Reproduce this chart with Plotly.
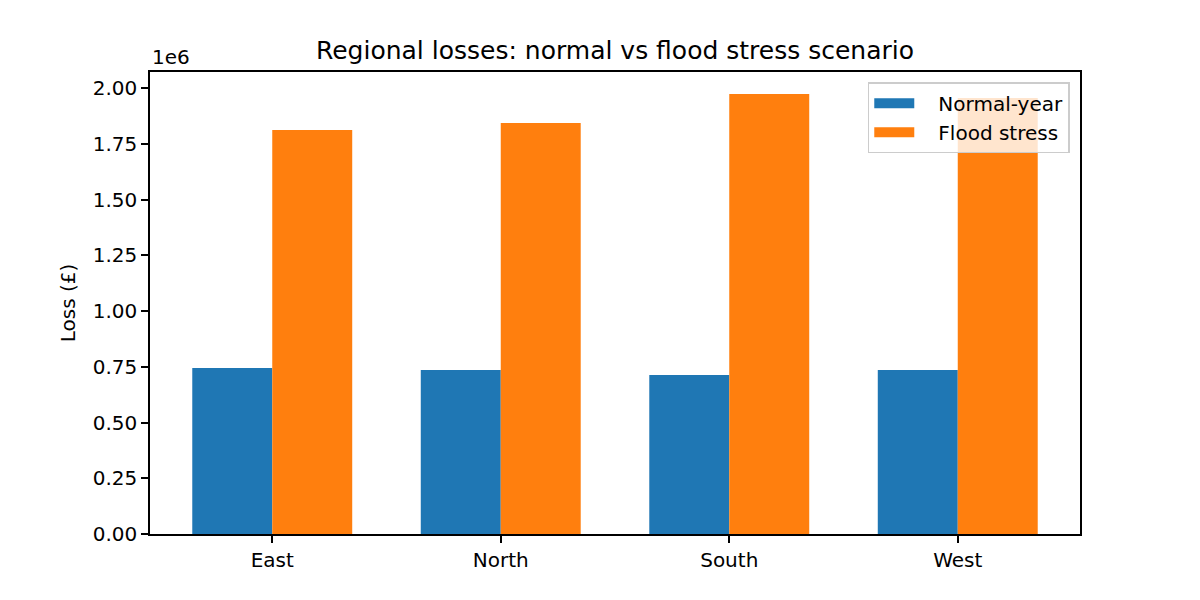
import plotly.graph_objects as go

regions = ["East", "North", "South", "West"]
normal_loss = [744000, 735000, 713000, 735000]
flood_loss = [1812000, 1843000, 1973000, 1955000]
y_ticks = [0, 250000, 500000, 750000, 1000000, 1250000, 1500000, 1750000, 2000000]
y_tick_text = ["%.2f" % (v / 1e6) for v in y_ticks]

font = "DejaVu Sans"
blue = "#1f77b4"
orange = "#ff7f0e"
pad = "\u00a0" * 3  # gap between swatch and legend text

fig = go.Figure()
fig.add_trace(go.Bar(x=regions, y=normal_loss, name="Normal-year", showlegend=False,
                     marker=dict(color=blue, line=dict(width=0))))
fig.add_trace(go.Bar(x=regions, y=flood_loss, name="Flood stress", showlegend=False,
                     marker=dict(color=orange, line=dict(width=0))))

# legend-only entries so the swatches come out as wide patches like matplotlib's
fig.add_trace(go.Scatter(x=[None], y=[None], mode="lines", name=pad + "Normal-year",
                         line=dict(color=blue, width=15)))
fig.add_trace(go.Scatter(x=[None], y=[None], mode="lines", name=pad + "Flood stress",
                         line=dict(color=orange, width=15)))

# page body has an 8px margin, so the plot box is shifted accordingly
fig.update_layout(
    width=1200, height=600,
    margin=dict(l=142, r=128, t=64, b=74),
    paper_bgcolor="white", plot_bgcolor="white",
    barmode="group", bargap=0.3, bargroupgap=0,
    font=dict(family=font, size=20, color="black"),
    title=dict(text="Regional losses: normal vs flood stress scenario",
               x=0.5 + 0.5 * (142 - 128) / 1200, xanchor="center",
               y=1 - 42 / 600, yanchor="middle",
               font=dict(size=25)),
    legend=dict(x=0.989, y=0.978, xanchor="right", yanchor="top",
                bgcolor="rgba(255,255,255,0.8)", bordercolor="#cccccc", borderwidth=1.5,
                font=dict(size=20), itemwidth=40),
    showlegend=True,
    hovermode=False,
)

fig.update_xaxes(range=[-0.535, 3.535], showline=True, linecolor="black", linewidth=1.6,
                 mirror=True, ticks="outside", ticklen=7, tickwidth=1.6, tickcolor="black",
                 showgrid=False, tickfont=dict(size=20))
fig.update_yaxes(range=[0, 2072000], tickvals=y_ticks, ticktext=y_tick_text,
                 showline=True, linecolor="black", linewidth=1.6, mirror=True,
                 ticks="outside", ticklen=7, tickwidth=1.6, tickcolor="black", showgrid=False,
                 zeroline=False, tickfont=dict(size=20),
                 title=dict(text="Loss (£)", font=dict(size=20), standoff=12))

fig.add_annotation(text="1e6", xref="paper", yref="paper", x=0, y=1,
                   xanchor="left", yanchor="bottom", showarrow=False,
                   font=dict(size=20), yshift=1)

fig.write_html("out.html")
